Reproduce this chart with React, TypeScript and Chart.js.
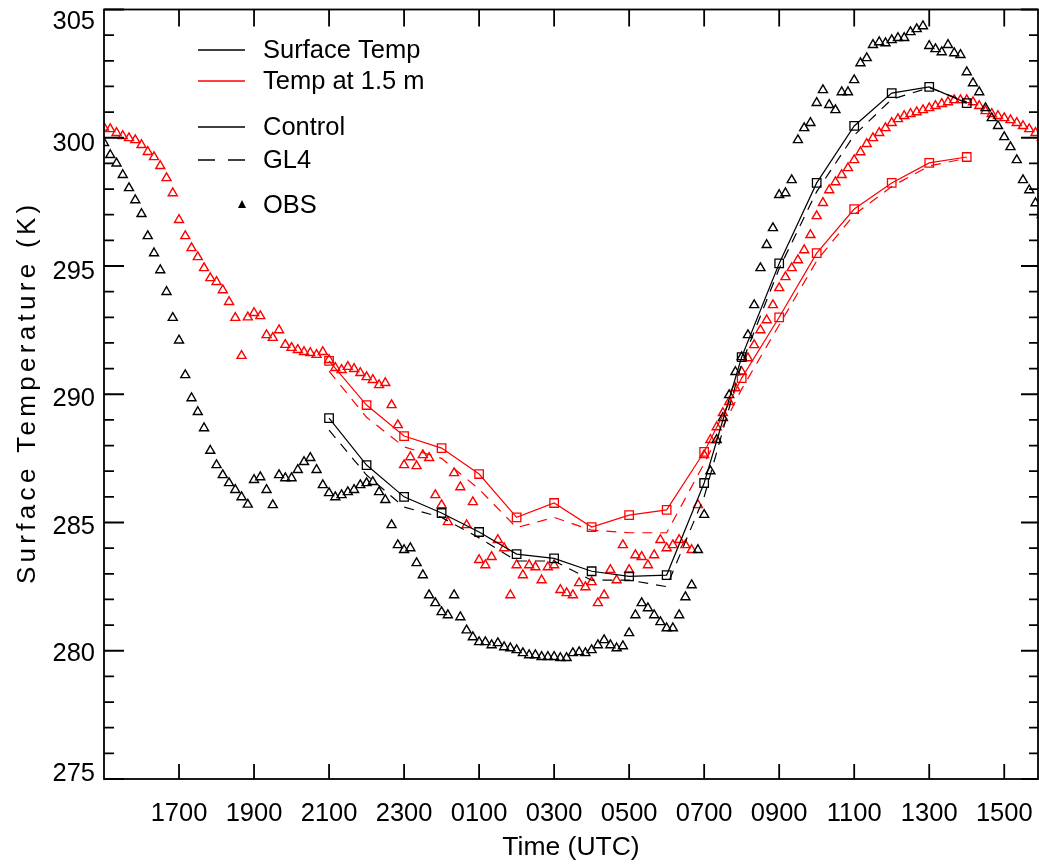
import React, { useEffect, useRef } from "react";
import { Chart, registerables } from "chart.js";

Chart.register(...registerables);

const FONT = "'Liberation Sans', Arial, sans-serif";

// Observations: one value every 10 minutes starting 1500 UTC (hour 0)
const OBS_STEP_HOURS = 10 / 60;

// Observed surface (skin) temperature, K
const obsSurface = [
  299.8, 299.33, 299.0, 298.55, 298.04, 297.57,
  297.03, 296.17, 295.5, 294.84, 293.99, 292.98,
  292.1, 290.75, 289.85, 289.31, 288.68, 287.8,
  287.24, 286.85, 286.54, 286.27, 285.99, 285.7,
  286.66, 286.77, 286.27, 285.68, 286.85, 286.73,
  286.73, 287.05, 287.36, 287.52, 287.05, 286.46,
  286.15, 285.99, 286.07, 286.19, 286.27, 286.46,
  286.54, 286.58, 286.19, 285.88, 284.9, 284.12,
  283.93, 284.0, 283.42, 282.95, 282.17, 281.86,
  281.51, 281.39, 282.17, 281.31, 280.8, 280.53,
  280.34, 280.34, 280.22, 280.3, 280.14, 280.1,
  280.03, 279.91, 279.83, 279.83, 279.76, 279.76,
  279.76, 279.72, 279.72, 279.91, 279.95, 279.91,
  280.03, 280.22, 280.42, 280.22, 280.1, 280.18,
  280.69, 281.39, 281.86, 281.66, 281.39, 281.12,
  280.88, 280.88, 281.39, 282.09, 282.56, 283.93,
  285.3, 287.0, 288.22, 289.08, 289.97, 290.87,
  291.45, 292.31, 293.48, 294.92, 295.82, 296.48,
  297.77, 297.84, 298.35, 299.91, 300.38, 300.58,
  301.36, 301.86, 301.28, 301.08, 301.78, 301.78,
  302.25, 302.91, 303.11, 303.62, 303.73, 303.69,
  303.81, 303.89, 303.89, 304.12, 304.24, 304.35,
  303.58, 303.46, 303.34, 303.62, 303.3, 303.23,
  302.56, 302.13, 301.78, 301.16, 300.77, 300.46,
  300.03, 299.64, 299.13, 298.35, 297.96, 297.45,
  296.99,
];

// Observed temperature at 1.5 m, K
const obs15m = [
  300.4, 300.34, 300.19, 300.07, 299.99, 299.91,
  299.72, 299.45, 299.25, 298.9, 298.43, 297.84,
  296.8, 296.17, 295.7, 295.35, 294.92, 294.53,
  294.38, 294.06, 293.6, 292.98, 291.5, 293.0,
  293.17, 293.05, 292.31, 292.2, 292.5, 291.93,
  291.81, 291.73, 291.65, 291.61, 291.54, 291.65,
  291.34, 291.03, 290.95, 291.07, 290.99, 290.83,
  290.67, 290.56, 290.36, 290.44, 289.58, 288.8,
  287.24, 287.55, 287.2, 287.63, 287.52, 286.07,
  285.68, 285.02, 286.93, 286.38, 284.9, 285.8,
  283.54, 283.34, 283.66, 284.32, 284.0, 282.17,
  283.34, 282.95, 283.34, 283.26, 282.75, 283.26,
  283.34, 282.37, 282.25, 282.17, 282.64, 282.48,
  282.68, 281.86, 282.17, 283.15, 282.75, 284.12,
  283.15, 283.73, 283.66, 283.34, 283.73, 284.32,
  284.0, 284.12, 284.32, 284.12, 283.93, 285.68,
  287.63, 288.22, 288.72, 289.27, 289.7, 290.24,
  290.87, 291.41, 291.92, 292.5, 292.89, 293.48,
  294.14, 294.57, 294.92, 295.23, 295.62, 296.21,
  296.95, 297.46, 297.96, 298.27, 298.55, 298.82,
  299.13, 299.44, 299.76, 299.99, 300.19, 300.38,
  300.58, 300.73, 300.85, 300.93, 301.0, 301.08,
  301.16, 301.24, 301.32, 301.39, 301.47, 301.47,
  301.47, 301.39, 301.24, 301.04, 300.93, 300.85,
  300.77, 300.69, 300.58, 300.46, 300.34, 300.19,
  300.0,
];

// Model output: hourly, 2100 UTC (hour 6) to 1400 UTC (hour 23)
const modelHours = [6, 7, 8, 9, 10, 11, 12, 13, 14, 15, 16, 17, 18, 19, 20, 21, 22, 23];
const controlSurface = [289.07, 287.24, 286.0, 285.37, 284.63, 283.77, 283.6, 283.1, 282.9, 282.95, 286.54, 291.45, 295.1, 298.24, 300.46, 301.74, 301.98, 301.35];
const control15m = [291.3, 289.58, 288.37, 287.9, 286.89, 285.2, 285.76, 284.82, 285.29, 285.49, 287.75, 290.63, 293.0, 295.5, 297.22, 298.24, 299.02, 299.25];
const gl4Surface = [288.6, 286.85, 285.6, 285.2, 284.4, 283.5, 283.5, 282.75, 282.75, 282.5, 286.0, 291.2, 294.9, 297.9, 300.1, 301.5, 301.95, 301.4];
const gl415m = [290.9, 289.1, 287.95, 287.5, 286.3, 284.8, 285.2, 284.7, 284.6, 284.6, 287.3, 290.2, 292.7, 295.2, 297.0, 298.1, 298.9, 299.2];

// Axis ticks
const xTickHours = [2, 4, 6, 8, 10, 12, 14, 16, 18, 20, 22, 24];
const xTickLabels = ["1700", "1900", "2100", "2300", "0100", "0300", "0500", "0700", "0900", "1100", "1300", "1500"];
const yMajorTicks = [275, 280, 285, 290, 295, 300, 305];
// vertical nudge of each y tick label (px, + = down), as the original plot places them
const yLabelNudge: Record<number, number> = { 275: -5, 280: 3.5, 285: 4, 290: 4.5, 295: 6, 300: 6, 305: 12 };
const X_MIN = 0;
const X_MAX = 24.9;
const Y_MIN = 275;
const Y_MAX = 305;
const X_TITLE = "Time (UTC)";
const Y_TITLE = "Surface Temperature (K)";

const toObsPoints = (vals: number[]) => vals.map((y, i) => ({ x: i * OBS_STEP_HOURS, y }));
const toModelPoints = (vals: number[]) => vals.map((y, i) => ({ x: modelHours[i], y }));

const yAllTicks: number[] = [];
for (let v = Y_MIN; v <= Y_MAX; v++) yAllTicks.push(v);

const framePlugin = {
  id: "idlFrame",
  afterDraw(chart: any) {
    const { ctx, chartArea: ca, scales } = chart;
    const xs = scales.x;
    const ys = scales.y;
    ctx.save();
    ctx.strokeStyle = "#000";
    ctx.lineWidth = 1.8;
    ctx.strokeRect(ca.left, ca.top, ca.right - ca.left, ca.bottom - ca.top);
    ctx.beginPath();
    for (const v of yAllTicks) {
      const py = ys.getPixelForValue(v);
      const major = yMajorTicks.includes(v);
      ctx.moveTo(ca.left, py);
      ctx.lineTo(ca.left + (major ? 20 : 10), py);
      ctx.moveTo(ca.right, py);
      ctx.lineTo(ca.right - (major ? 17 : 9), py);
    }
    for (const h of xTickHours) {
      const px = xs.getPixelForValue(h);
      ctx.moveTo(px, ca.bottom);
      ctx.lineTo(px, ca.bottom - 15);
      ctx.moveTo(px, ca.top);
      ctx.lineTo(px, ca.top + 17);
    }
    ctx.stroke();

    // Y axis title (spaced lettering like the original)
    ctx.save();
    ctx.translate(28, (ca.top + ca.bottom) / 2);
    ctx.rotate(-Math.PI / 2);
    ctx.font = `26px ${FONT}`;
    ctx.fillStyle = "#000";
    ctx.textAlign = "center";
    ctx.textBaseline = "middle";
    try {
      (ctx as any).letterSpacing = "4.3px";
    } catch (e) {}
    ctx.fillText(Y_TITLE, 2, 0);
    try {
      (ctx as any).letterSpacing = "0px";
    } catch (e) {}
    ctx.restore();

    // Legend
    ctx.font = `25.5px ${FONT}`;
    ctx.textBaseline = "middle";
    ctx.textAlign = "left";
    ctx.fillStyle = "#000";
    const lx0 = 198;
    const lx1 = 245;
    const tx = 263;
    const entries = [
      { y: 50, color: "#000", dash: [] as number[], text: "Surface Temp" },
      { y: 81, color: "#ff0000", dash: [] as number[], text: "Temp at 1.5 m" },
      { y: 127, color: "#000", dash: [] as number[], text: "Control" },
      { y: 160, color: "#000", dash: [17, 13], text: "GL4" },
    ];
    ctx.lineWidth = 1.5;
    for (const e of entries) {
      ctx.strokeStyle = e.color;
      ctx.setLineDash(e.dash);
      ctx.beginPath();
      ctx.moveTo(lx0, e.y);
      ctx.lineTo(lx1, e.y);
      ctx.stroke();
      ctx.setLineDash([]);
      ctx.fillText(e.text, tx, e.y + 1);
    }
    // OBS symbol
    ctx.beginPath();
    ctx.moveTo(242, 200);
    ctx.lineTo(246, 208);
    ctx.lineTo(238, 208);
    ctx.closePath();
    ctx.fill();
    ctx.fillText("OBS", tx, 206);
    ctx.restore();
  },
};

export default function App() {
  const canvasRef = useRef<HTMLCanvasElement | null>(null);

  useEffect(() => {
    const canvas = canvasRef.current;
    if (!canvas) return;
    const tickFont = { family: FONT, size: 25.5 };
    const chart = new Chart(canvas, {
      type: "line",
      data: {
        datasets: [
          {
            label: "Control surface",
            data: toModelPoints(controlSurface),
            borderColor: "#000",
            borderWidth: 1.2,
            pointStyle: "rect",
            pointRadius: 6,
            pointBorderWidth: 1.3,
            pointBorderColor: "#000",
            pointBackgroundColor: "rgba(0,0,0,0)",
            fill: false,
          },
          {
            label: "Control 1.5 m",
            data: toModelPoints(control15m),
            borderColor: "#ff0000",
            borderWidth: 1.2,
            pointStyle: "rect",
            pointRadius: 6,
            pointBorderWidth: 1.3,
            pointBorderColor: "#ff0000",
            pointBackgroundColor: "rgba(0,0,0,0)",
            fill: false,
          },
          {
            label: "GL4 surface",
            data: toModelPoints(gl4Surface),
            borderColor: "#000",
            borderWidth: 1.2,
            borderDash: [10, 8],
            pointRadius: 0,
            fill: false,
          },
          {
            label: "GL4 1.5 m",
            data: toModelPoints(gl415m),
            borderColor: "#ff0000",
            borderWidth: 1.2,
            borderDash: [10, 8],
            pointRadius: 0,
            fill: false,
          },
          {
            label: "OBS surface",
            data: toObsPoints(obsSurface),
            showLine: false,
            pointStyle: "triangle",
            pointRadius: 5.2,
            pointBorderWidth: 1.4,
            pointBorderColor: "#000",
            pointBackgroundColor: "rgba(255,255,255,0)",
          },
          {
            label: "OBS 1.5 m",
            data: toObsPoints(obs15m),
            showLine: false,
            pointStyle: "triangle",
            pointRadius: 5.2,
            pointBorderWidth: 1.4,
            pointBorderColor: "#ff0000",
            pointBackgroundColor: "rgba(255,255,255,0)",
          },
        ],
      },
      options: {
        animation: false,
        responsive: true,
        maintainAspectRatio: false,
        layout: { autoPadding: false, padding: { top: 9.5, right: 1, left: 0, bottom: 0 } },
        plugins: {
          legend: { display: false },
          tooltip: { enabled: false },
        },
        scales: {
          x: {
            type: "linear",
            min: X_MIN,
            max: X_MAX,
            afterBuildTicks: (s: any) => {
              s.ticks = xTickHours.map((v) => ({ value: v }));
            },
            afterFit: (s: any) => {
              s.height = 87;
              s.paddingLeft = 0;
              s.paddingRight = 0;
              s.paddingTop = 0;
              s.paddingBottom = 0;
            },
            grid: { display: false, drawTicks: false },
            border: { display: false },
            ticks: {
              autoSkip: false,
              maxRotation: 0,
              minRotation: 0,
              padding: 20,
              color: "#000",
              font: tickFont,
              callback: (v: any) => {
                const i = xTickHours.indexOf(Number(v));
                return i >= 0 ? xTickLabels[i] : "";
              },
            },
            title: {
              display: true,
              text: X_TITLE,
              color: "#000",
              font: { family: FONT, size: 26.5 },
              padding: { top: 0, bottom: 2 },
            },
          },
          y: {
            type: "linear",
            min: Y_MIN,
            max: Y_MAX,
            afterBuildTicks: (s: any) => {
              s.ticks = yAllTicks.map((v) => ({ value: v }));
            },
            afterFit: (s: any) => {
              s.width = 104;
              s.paddingLeft = 0;
              s.paddingRight = 0;
              s.paddingTop = 0;
              s.paddingBottom = 0;
            },
            grid: { display: false, drawTicks: false },
            border: { display: false },
            ticks: {
              autoSkip: false,
              padding: 9,
              color: "#000",
              font: (c: any) => {
                const v = c.tick ? Number(c.tick.value) : 0;
                const d = yLabelNudge[v] || 0;
                return { family: FONT, size: 25.5, lineHeight: `${Math.max(Math.abs(d) * 2, 1)}px` };
              },
              callback: (v: any) => {
                const n = Number(v);
                if (!yMajorTicks.includes(n)) return "";
                const d = yLabelNudge[n] || 0;
                return d >= 0 ? ["", String(n)] : [String(n), ""];
              },
            },
            title: { display: false },
          },
        },
      },
      plugins: [framePlugin],
    });
    return () => chart.destroy();
  }, []);

  return (
    <div style={{ position: "fixed", left: 0, top: 0, width: 1039, height: 866, background: "#fff" }}>
      <canvas ref={canvasRef} />
    </div>
  );
}
